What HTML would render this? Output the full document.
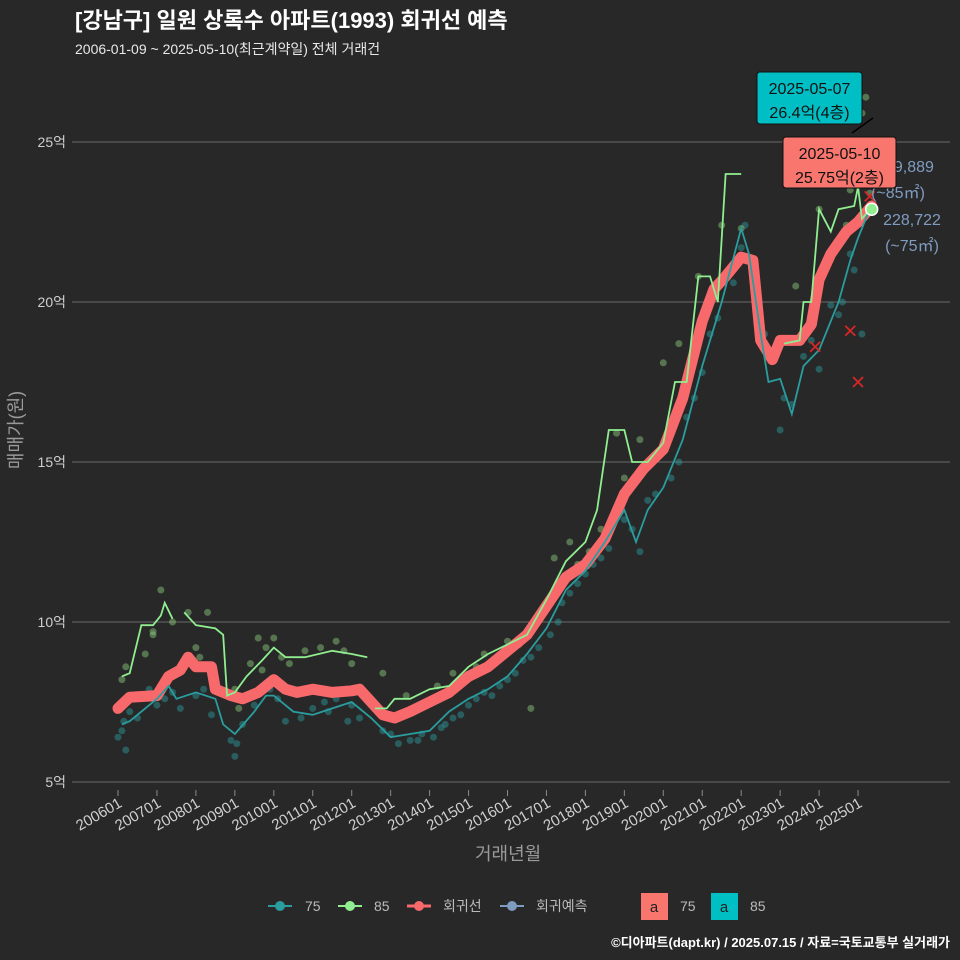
<!DOCTYPE html>
<html><head><meta charset="utf-8">
<style>
body{margin:0;background:#282828;}
svg{display:block;font-family:"Liberation Sans","Noto Sans CJK KR",sans-serif;}
</style></head>
<body>
<svg id="chart" width="960" height="960" viewBox="0 0 960 960" xmlns="http://www.w3.org/2000/svg">
<rect width="960" height="960" fill="#282828"/>
<text x="75" y="28" fill="#ffffff" font-size="22" font-weight="bold">[강남구] 일원 상록수 아파트(1993) 회귀선 예측</text>
<text x="75" y="54" fill="#e8e8e8" font-size="14">2006-01-09 ~ 2025-05-10(최근계약일) 전체 거래건</text>
<g id="grid"></g>
<g id="marks"></g>
<text x="475" y="860" fill="#9a9a9a" font-size="18">거래년월</text>
<text transform="translate(22,430) rotate(-90)" text-anchor="middle" fill="#9a9a9a" font-size="18">매매가(원)</text>
<g font-size="14" fill="#bbbbbb">
 <g><line x1="268" y1="906" x2="292" y2="906" stroke="#2a9d9f" stroke-width="2"/><circle cx="280" cy="906" r="5" fill="#2a9d9f"/><text x="305" y="911">75</text></g>
 <g><line x1="338" y1="906" x2="362" y2="906" stroke="#90ee90" stroke-width="2"/><circle cx="350" cy="906" r="5" fill="#90ee90"/><text x="374" y="911">85</text></g>
 <g><line x1="407" y1="906" x2="431" y2="906" stroke="#f8696b" stroke-width="3"/><circle cx="419" cy="906" r="5" fill="#f8696b"/><text x="443" y="911">회귀선</text></g>
 <g><line x1="500" y1="906" x2="524" y2="906" stroke="#7f9cc0" stroke-width="2"/><circle cx="512" cy="906" r="5" fill="#7f9cc0"/><text x="536" y="911">회귀예측</text></g>
 <g><rect x="641" y="893" width="27" height="27" fill="#f8766d"/><text x="654" y="912" text-anchor="middle" fill="#222" font-size="15">a</text><text x="680" y="911">75</text></g>
 <g><rect x="711" y="893" width="27" height="27" fill="#00bfc4"/><text x="724" y="912" text-anchor="middle" fill="#222" font-size="15">a</text><text x="750" y="911">85</text></g>
</g>
<text x="950" y="947" text-anchor="end" fill="#ffffff" font-size="13" font-weight="bold">©디아파트(dapt.kr) / 2025.07.15 / 자료=국토교통부 실거래가</text>
</svg>
<script>
const yTicks=[5,10,15,20,25];
const xTickLabels=["200601","200701","200801","200901","201001","201101","201201","201301","201401","201501","201601","201701","201801","201901","202001","202101","202201","202301","202401","202501"];
const regX=[2006.0,2006.3,2007.0,2007.3,2007.6,2007.8,2008.0,2008.4,2008.5,2008.9,2009.2,2009.6,2010.0,2010.3,2010.6,2011.0,2011.5,2012.0,2012.2,2012.5,2012.8,2013.1,2013.5,2014.0,2014.5,2015.0,2015.5,2016.0,2016.5,2017.0,2017.5,2018.0,2018.5,2019.0,2019.5,2020.0,2020.5,2021.0,2021.3,2021.6,2022.0,2022.3,2022.5,2022.8,2023.0,2023.5,2023.8,2024.0,2024.3,2024.7,2025.0,2025.35];
const regY=[7.3,7.65,7.7,8.3,8.5,8.9,8.6,8.6,7.9,7.7,7.6,7.8,8.2,7.9,7.8,7.9,7.8,7.85,7.9,7.5,7.1,7.0,7.2,7.5,7.8,8.3,8.6,9.1,9.6,10.5,11.4,11.8,12.6,14.0,14.8,15.4,17.0,19.4,20.4,20.8,21.4,21.3,18.8,18.2,18.8,18.8,19.3,20.7,21.5,22.2,22.5,23.0];
const t75X=[2006.1,2006.3,2006.8,2007.0,2007.3,2007.5,2008.0,2008.5,2008.7,2009.0,2009.5,2009.8,2010.0,2010.5,2011.0,2011.5,2012.0,2012.5,2013.0,2013.5,2014.0,2014.5,2015.0,2015.5,2016.0,2016.5,2017.0,2017.5,2018.0,2018.5,2019.0,2019.3,2019.6,2020.0,2020.5,2021.0,2021.5,2022.0,2022.2,2022.5,2022.7,2023.0,2023.3,2023.6,2024.0,2024.5,2024.8,2025.0,2025.3];
const t75Y=[6.8,6.9,7.4,7.6,8.0,7.6,7.8,7.6,6.8,6.5,7.2,7.7,7.7,7.2,7.1,7.3,7.5,7.0,6.4,6.5,6.6,7.2,7.6,7.9,8.3,9.0,9.8,11.0,11.6,12.5,13.5,12.5,13.5,14.2,15.7,18.0,20.0,22.3,21.5,19.0,17.5,17.6,16.5,18.0,18.5,20.0,21.3,22.0,22.9];
const g85Seg1X=[2006.1,2006.3,2006.6,2006.9,2007.1,2007.2,2007.4];
const g85Seg1Y=[8.3,8.4,9.9,9.9,10.2,10.6,10.1];
const g85Seg2X=[2007.7,2008.0,2008.5,2008.7,2008.8,2009.0,2009.3,2009.7,2010.0,2010.3,2010.8,2011.5,2012.0,2012.4];
const g85Seg2Y=[10.3,9.9,9.8,9.6,7.7,7.8,8.3,8.8,9.2,8.9,8.9,9.1,9.0,8.9];
const g85Seg3X=[2012.6,2012.9,2013.1,2013.5,2014.0,2014.5,2015.0,2015.5,2016.0,2016.5,2017.0,2017.5,2018.0,2018.3,2018.6,2019.0,2019.2,2019.6,2020.0,2020.3,2020.6,2020.9,2021.2,2021.4,2021.6,2022.0];
const g85Seg3Y=[7.3,7.3,7.6,7.6,7.9,8.0,8.6,9.0,9.3,9.6,10.7,11.9,12.5,13.5,16.0,16.0,15.0,15.0,15.6,17.5,17.5,20.8,20.8,20.0,24.0,24.0];
const g85Seg4X=[2023.1,2023.5,2023.6,2023.8,2024.0,2024.3,2024.5,2024.9,2025.0,2025.1,2025.3];
const g85Seg4Y=[18.7,18.8,20.0,20.0,22.9,22.2,22.9,23.0,23.6,22.6,22.9];
const p75X=[2006.0,2006.1,2006.2,2006.5,2006.8,2007.0,2007.2,2007.6,2008.0,2008.4,2008.9,2009.0,2009.2,2009.5,2009.9,2010.3,2010.7,2011.0,2011.3,2011.6,2011.9,2012.2,2012.8,2013.2,2013.5,2013.8,2014.1,2014.4,2014.8,2015.2,2015.6,2016.0,2016.4,2016.8,2017.1,2017.4,2017.8,2018.2,2018.6,2019.0,2019.4,2019.8,2020.2,2020.6,2021.0,2021.4,2021.8,2022.1,2022.6,2023.0,2023.3,2023.6,2024.0,2024.3,2024.6,2024.9,2025.1,2006.15,2006.3,2007.4,2008.2,2009.05,2010.1,2011.4,2012.0,2013.0,2013.7,2014.3,2014.6,2015.0,2015.4,2015.8,2016.2,2016.6,2017.3,2017.6,2018.0,2018.4,2019.2,2019.6,2020.4,2020.8,2021.2,2022.0,2022.4,2023.1,2023.8,2024.5,2024.8];
const p75Y=[6.4,6.6,6.0,7.0,7.9,7.4,7.6,7.3,7.7,7.1,6.3,5.8,6.8,7.4,7.9,6.9,7.0,7.3,7.5,7.6,6.9,7.0,6.6,6.2,6.3,6.5,6.4,6.8,7.1,7.6,7.7,8.2,8.8,9.2,9.6,10.6,11.2,11.8,12.3,13.2,12.2,14.0,14.5,16.4,17.8,19.5,20.6,22.4,19.0,16.0,16.8,18.3,17.9,19.9,20.0,21.0,19.0,6.9,7.2,7.8,7.9,6.2,7.6,7.2,7.4,6.5,6.3,6.7,7.0,7.4,7.8,8.0,8.4,8.9,10.0,10.9,11.5,12.0,12.9,13.8,15.0,17.0,19.0,21.7,20.2,17.0,18.8,19.6,21.5];
const p85X=[2006.1,2006.2,2006.7,2006.9,2007.1,2007.4,2007.8,2008.0,2008.1,2008.3,2009.0,2009.1,2009.4,2009.6,2009.8,2010.0,2010.4,2010.8,2011.2,2011.6,2011.8,2012.0,2012.8,2013.4,2014.2,2014.6,2015.4,2016.0,2016.6,2017.2,2017.6,2018.1,2018.4,2018.8,2019.4,2020.0,2020.4,2020.9,2021.5,2022.0,2023.4,2024.0,2024.4,2024.7,2025.1,2025.2,2025.3,2006.9,2009.7,2010.2,2014.8,2015.2,2016.3,2017.8,2019.0,2024.8];
const p85Y=[8.2,8.6,9.0,9.7,11.0,10.0,10.3,9.2,8.9,10.3,7.9,7.3,8.7,9.5,9.2,9.5,8.7,9.1,9.2,9.4,9.1,8.7,8.4,7.7,8.0,8.4,9.0,9.4,7.3,12.0,12.5,12.2,12.9,15.9,15.7,18.1,18.7,20.8,22.4,22.3,20.5,22.9,23.8,22.4,25.9,26.4,23.4,9.6,8.5,8.9,8.2,8.6,9.3,11.8,14.5,23.5];
const xMarkX=[2023.9,2024.8,2025.0,2025.3];
const xMarkY=[18.6,19.1,17.5,23.3];

const NS="http://www.w3.org/2000/svg";
const sx=yr=>118+(yr-2006)*38.95;
const sy=v=>782-(v-5)*32;
const grid=document.getElementById('grid'),marks=document.getElementById('marks');
function mk(tag,attrs,parent){const e=document.createElementNS(NS,tag);for(const k in attrs)e.setAttribute(k,attrs[k]);parent.appendChild(e);return e;}
yTicks.forEach(v=>{
 const l=mk('line',{x1:72,x2:950,y1:sy(v),y2:sy(v),stroke:'#6a6a6a','stroke-width':1},grid);
 
 
 const t=mk('text',{x:66,y:sy(v)+5,'text-anchor':'end',fill:'#cfcfcf','font-size':14},grid);
 t.textContent=v+'억';
 
 
});
xTickLabels.forEach((lab,i)=>{
 const x=sx(2006+i);
 const tk=mk('line',{x1:x,x2:x,y1:790,y2:796,stroke:'#8a8a8a'},grid);
 
 
 const t=mk('text',{transform:`translate(${x+5},${806}) rotate(-30)`,'text-anchor':'end',fill:'#d0d0d0','font-size':15},grid);
 t.textContent=lab;
 
 
});
function pts(X,Y){return X.map((x,i)=>sx(x)+','+sy(Y[i])).join(' ');}
p75X.forEach((x,i)=>{const c=mk('circle',{cx:sx(x),cy:sy(p75Y[i]),r:3.5,fill:'#2a9d9f','fill-opacity':0.45},marks);
 
 });
p85X.forEach((x,i)=>{const c=mk('circle',{cx:sx(x),cy:sy(p85Y[i]),r:3.5,fill:'#8fd17f','fill-opacity':0.45},marks);
 
 });
const reg=mk('polyline',{points:pts(regX,regY),fill:'none',stroke:'#f8696b','stroke-width':11,'stroke-linejoin':'round','stroke-linecap':'round'},marks);


const l75=mk('polyline',{points:pts(t75X,t75Y),fill:'none',stroke:'#2a9d9f','stroke-width':1.8},marks);


[[g85Seg1X,g85Seg1Y],[g85Seg2X,g85Seg2Y],[g85Seg3X,g85Seg3Y],[g85Seg4X,g85Seg4Y]].forEach(([X,Y])=>{
 const l=mk('polyline',{points:pts(X,Y),fill:'none',stroke:'#90ee90','stroke-width':1.8},marks);
 
 
});
xMarkX.forEach((x,i)=>{const cx=sx(x),cy=sy(xMarkY[i]);
 const p=mk('path',{d:`M${cx-5},${cy-5}L${cx+5},${cy+5}M${cx+5},${cy-5}L${cx-5},${cy+5}`,stroke:'#d62728','stroke-width':1.8},marks);
 
 });
const endX=sx(2025.35),endY=sy(22.9);
const ec=mk('circle',{cx:endX,cy:endY,r:6,fill:'#90ee90',stroke:'#fff','stroke-width':1.5},marks);


const ln=mk('line',{x1:852,y1:133,x2:873,y2:118,stroke:'#000','stroke-width':1.5},marks);


function label(x,y,txt,nm){const t=mk('text',{x:x,y:y,fill:'#7f9cc0','font-size':16,'text-anchor':'middle'},marks);t.textContent=txt;
 
 }
label(905,172,'229,889','forecast-85-value');
label(898,198,'(~85㎡)','forecast-85-area');
label(912,225,'228,722','forecast-75-value');
label(912,251,'(~75㎡)','forecast-75-area');
function box(x,y,w,h,fill,l1,l2,nm){const g=mk('g',{},marks);
 
 
 mk('rect',{x:x,y:y,width:w,height:h,rx:3,fill:fill,stroke:'#111','stroke-width':1},g);
 const a=mk('text',{x:x+w/2,y:y+22,'text-anchor':'middle',fill:'#111','font-size':16},g);a.textContent=l1;
 const b=mk('text',{x:x+w/2,y:y+46,'text-anchor':'middle',fill:'#111','font-size':16},g);b.textContent=l2;}
box(757,72,105,52,'#00bfc4','2025-05-07','26.4억(4층)','annotation-latest-85');
box(783,137,113,51,'#f8766d','2025-05-10','25.75억(2층)','annotation-latest-75');
</script>
</body></html>
